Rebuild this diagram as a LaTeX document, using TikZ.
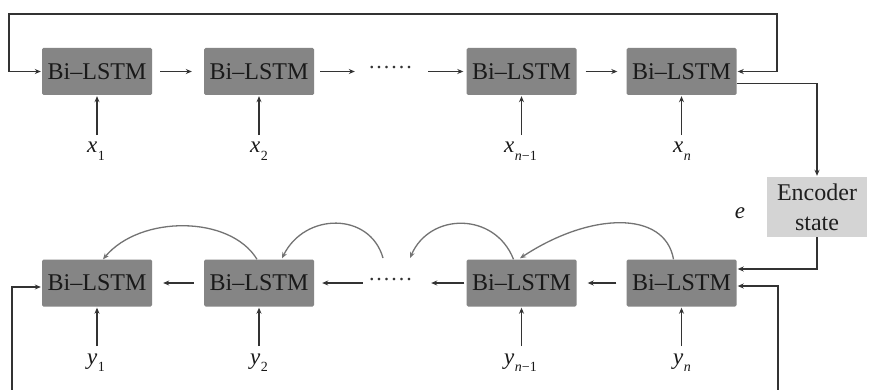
\documentclass[tikz,border=0pt]{standalone}
\usepackage{fontspec}
\setmainfont{Liberation Serif}
\usetikzlibrary{arrows.meta}
\newcommand{\lbl}[2]{\textit{#1}\kern0.5pt\raisebox{-0.32em}{\fontsize{14}{14}\selectfont #2}}
\begin{document}
\begin{tikzpicture}[x=1pt,y=-1pt,
  lstm/.style={rectangle,rounded corners=1.5pt,fill=black!48,text=black!90,minimum width=110pt,minimum height=47pt,inner sep=0pt,font=\fontsize{24}{28}\selectfont},
  enc/.style={rectangle,fill=black!17,text=black!88,minimum width=100pt,minimum height=60pt,inner sep=0pt,align=center,font=\fontsize{24}{30}\selectfont},
  lab/.style={inner sep=0pt,font=\fontsize{23}{24}\selectfont,text=black!90},
  conn/.style={draw=black!80,line width=1.4pt,-{Stealth[length=6pt,width=5pt]}},
  conn2/.style={draw=black!80,line width=1.4pt,{Stealth[length=6pt,width=5pt]}-{Stealth[length=6pt,width=5pt]}},
  curv/.style={draw=black!55,line width=1.3pt,-{Stealth[length=6pt,width=5pt]}},
  dotsn/.style={inner sep=0pt,font=\fontsize{22}{24}\selectfont,text=black!80}]
\useasboundingbox (0,0) rectangle (869,390);
\fill[white] (0,0) rectangle (869,390);
% top row
\node[lstm] (t1) at (97,71.5) {Bi–LSTM};
\node[lstm] (t2) at (259,71.5) {Bi–LSTM};
\node[lstm] (t3) at (521.5,71.5) {Bi–LSTM};
\node[lstm] (t4) at (681.5,71.5) {Bi–LSTM};
\node[dotsn] (td) at (390.5,68) {.\kern2pt.\kern2pt.\kern2pt.\kern2pt.\kern2pt.};
% bottom row
\node[lstm] (b1) at (97,283) {Bi–LSTM};
\node[lstm] (b2) at (259,283) {Bi–LSTM};
\node[lstm] (b3) at (521.5,283) {Bi–LSTM};
\node[lstm] (b4) at (681.5,283) {Bi–LSTM};
\node[dotsn] (bd) at (390.5,279.5) {.\kern2pt.\kern2pt.\kern2pt.\kern2pt.\kern2pt.};
% encoder
\node[enc] (en) at (817,207) {Encoder\\state};
\node[lab] (e) at (740,213) {\textit{e}};
% labels
\node[lab,anchor=base west] (x1) at (87,153) {\lbl{x}{1}};
\node[lab,anchor=base west] (x2) at (250,153) {\lbl{x}{2}};
\node[lab,anchor=base west] (x3) at (504,153) {\lbl{x}{\textit{n}−1}};
\node[lab,anchor=base west] (x4) at (673,153) {\lbl{x}{\textit{n}}};
\node[lab,anchor=base west] (y1) at (87,364) {\lbl{y}{1}};
\node[lab,anchor=base west] (y2) at (250,364) {\lbl{y}{2}};
\node[lab,anchor=base west] (y3) at (504,364) {\lbl{y}{\textit{n}−1}};
\node[lab,anchor=base west] (y4) at (673,364) {\lbl{y}{\textit{n}}};
% input arrows
\foreach \a/\b in {x1/t1,x2/t2,x3/t3,x4/t4,y1/b1,y2/b2,y3/b3,y4/b4}{
  \draw[conn] (\b.south |- \a.north) ++(0,-7) -- ([yshift=-1pt]\b.south);}
% horizontal arrows top
\draw[conn,shorten <=8pt,shorten >=12pt] (t1.east) -- (t2.west);
\draw[conn,shorten <=6pt,shorten >=14pt] (t2.east) -- (t2.east -| td.west);
\draw[conn,shorten <=16pt,shorten >=3pt] (t3.west -| td.east) -- (t3.west);
\draw[conn,shorten <=9pt,shorten >=9pt] (t3.east) -- (t4.west);
% horizontal arrows bottom
\draw[conn,shorten <=10pt,shorten >=11pt] (b2.west) -- (b1.east);
\draw[conn,shorten <=6pt,shorten >=8pt] (b2.east -| bd.west) -- (b2.east);
\draw[conn,shorten <=2pt,shorten >=19pt] (b3.west) -- (b3.west -| bd.east);
\draw[conn,shorten <=10pt,shorten >=11pt] (b4.west) -- (b3.east);
% feedback loop top
\coordinate (tr) at (777,14);
\coordinate (tl) at (9,14);
\draw[conn2,shorten <=1pt,shorten >=1pt] (t4.east) -| (tr) -- (tl) |- (t1.west);
% to encoder
\draw[conn,shorten >=1pt] ([yshift=-12pt]t4.east) -| (en.north);
\draw[conn,shorten >=1pt] (en.south) |- ([yshift=14pt]b4.east);
% bottom loops
\coordinate (br) at (778,392);
\coordinate (bl) at (12,392);
\draw[conn,shorten >=1pt] (br) |- ([yshift=-3pt]b4.east);
\draw[conn,shorten >=1pt] (bl) |- ([yshift=-4pt]b1.west);
% curved attention arrows
\coordinate (ds) at (383,258);
\coordinate (de) at (410,258);
\draw[curv] ([xshift=-2pt]b2.north) .. controls (230,215) and (140,215) .. ([xshift=6pt]b1.north);
\draw[curv] (ds) .. controls (370,212) and (305,212) .. ([xshift=23pt,yshift=1pt]b2.north);
\draw[curv] ([xshift=-8pt]b3.north) .. controls (495,212) and (430,212) .. (de);
\draw[curv] ([xshift=-8pt]b4.north) .. controls (665,210) and (590,212) .. ([xshift=-1.5pt,yshift=1pt]b3.north);
\end{tikzpicture}
\end{document}
